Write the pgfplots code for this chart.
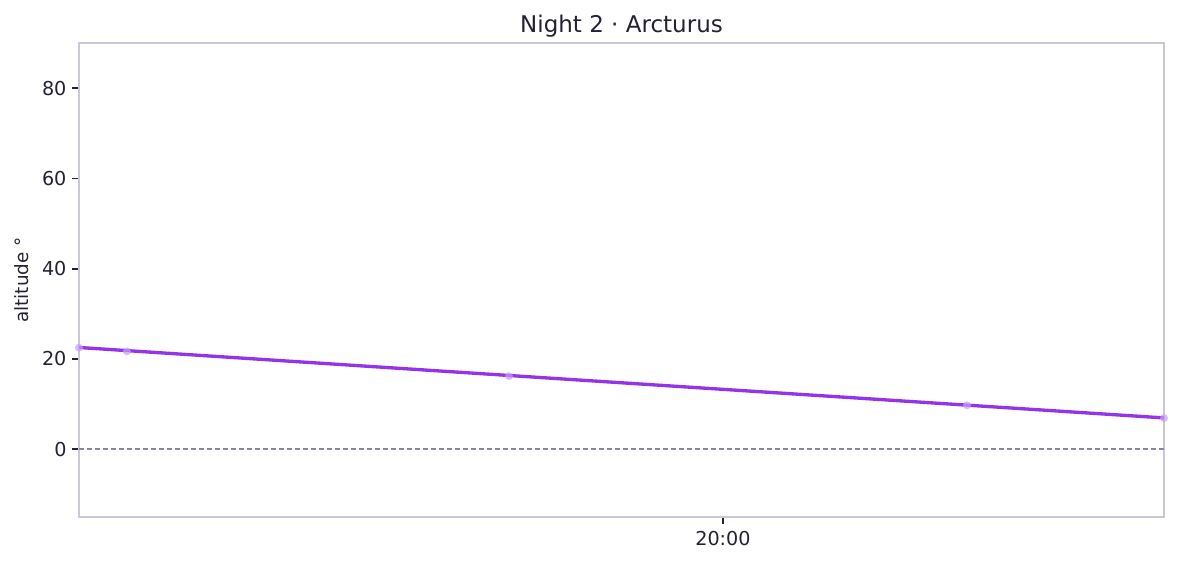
\documentclass[border=0pt]{standalone}
\usepackage{pgfplots}
\pgfplotsset{compat=1.18}
\usepackage{fontspec}
\setmainfont{DejaVu Sans}
\definecolor{lineP}{HTML}{9333EA}
\definecolor{dotP}{HTML}{C8A0F6}
\definecolor{frameC}{HTML}{C8C8D8}
\definecolor{zeroC}{HTML}{8A88A0}
\definecolor{txt}{HTML}{222233}
\begin{document}
\begin{tikzpicture}
\path[use as bounding box] (-47.4pt,-28.2pt) rectangle (658.8pt,310.2pt);
\begin{axis}[
  at={(0,0)}, anchor=south west,
  scale only axis, width=651pt, height=284.4pt,
  xmin=-59.35, xmax=40.65, ymin=-15, ymax=90,
  xtick={0}, xticklabels={20:00},
  ytick={0,20,40,60,80},
  axis line style={frameC, line width=1pt},
  tick style={txt, line width=1pt},
  major tick length=4pt,
  tick align=outside, xtick pos=bottom, ytick pos=left,
  ticklabel style={font=\fontsize{11.5}{13}\selectfont, text=txt},
  xticklabel style={yshift=-1.2pt},
  /pgf/number format/assume math mode=true,
  title={Night 2 · Arcturus},
  title style={font=\fontsize{13.8}{16}\selectfont, text=txt, yshift=-6pt},
  ylabel={altitude °},
  ylabel style={font=\fontsize{11}{13}\selectfont, text=txt, yshift=1pt},
  clip=false,
]
\addplot[zeroC, line width=1.1pt, dash pattern=on 3pt off 1.8pt] coordinates {(-59.35,0) (40.65,0)};
\addplot[lineP, line width=2pt] coordinates {(-59.35,22.55) (-19.72,16.35) (40.65,6.95)};
\addplot[only marks, mark=*, color=dotP, mark size=2.4pt, mark options={solid, draw opacity=0, fill=dotP, fill opacity=0.7}] coordinates {
(-59.35,22.5) (-54.93,21.7) (-19.72,16.2) (22.49,9.75) (40.65,6.9)};
\end{axis}
\end{tikzpicture}
\end{document}
